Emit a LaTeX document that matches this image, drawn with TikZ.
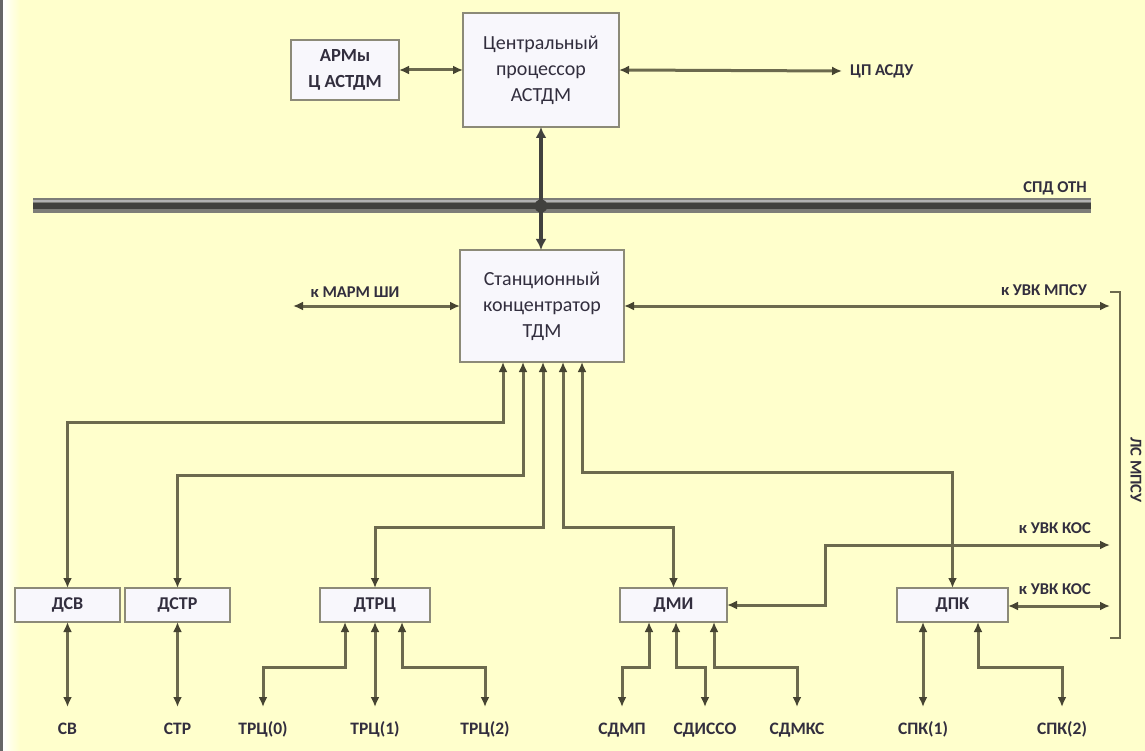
\documentclass[tikz,border=0pt]{standalone}
\usepackage{fontspec}
\setmainfont{Carlito}
\usetikzlibrary{arrows.meta,calc}
\definecolor{bgyel}{RGB}{255,255,204}
\definecolor{lncol}{RGB}{108,106,78}
\definecolor{tipcol}{RGB}{70,68,50}
\definecolor{boxln}{RGB}{140,138,120}
\definecolor{boxfill}{RGB}{248,247,252}
\definecolor{txtcol}{RGB}{50,46,62}
\definecolor{busouter}{RGB}{125,125,120}
\definecolor{businner}{RGB}{65,65,62}
\tikzset{
  blk/.style={draw=boxln, line width=1.8pt, fill=boxfill, text=txtcol, align=center, inner sep=2pt, outer sep=0pt},
  bigtxt/.style={font=\fontsize{20}{26}\selectfont},
  dbox/.style={blk, minimum height=34pt, font=\bfseries\fontsize{18}{20}\selectfont},
  lbl/.style={text=txtcol, font=\bfseries\fontsize{17.5}{20}\selectfont, inner xsep=2pt, inner ysep=15pt, text height=12pt, text depth=3pt, outer sep=0pt},
  small/.style={text=txtcol, font=\bfseries\fontsize{16.5}{18}\selectfont, inner sep=1pt},
  conn/.style={draw=lncol, line width=3pt, {Latex[length=10pt,width=9pt,color=tipcol]}-{Latex[length=10pt,width=9pt,color=tipcol]}},
}
\begin{document}
\begin{tikzpicture}[x=1pt,y=-1pt]
% background
\fill[bgyel] (0,0) rectangle (1145,751);
\useasboundingbox (0,0) rectangle (1145,751);
\shade[left color=white, right color=bgyel] (2.5,0) rectangle (20,751);
\fill[black!60] (0,0) rectangle (2.5,751);

% top blocks
\node[blk, bigtxt, minimum width=156pt, minimum height=114pt] (cp) at (541,70) {Центральный\\процессор\\АСТДМ};
\node[blk, font=\bfseries\fontsize{18.5}{26}\selectfont, minimum width=108pt, minimum height=60pt] (arm) at (345,70) {АРМы\\Ц АСТДМ};
\node[small, anchor=west, inner xsep=8pt] (cpasdu) at (842,71) {ЦП АСДУ};
\draw[conn] (arm.east) -- (cp.west);
\draw[conn] (cp.east) -- (cpasdu.west);

% bus
\coordinate (busL) at (33,206);
\coordinate (busR) at (1091,206);
\draw[busouter, line width=15pt] (busL) -- (busR);
\draw[businner, line width=6pt] (busL) -- (busR);
\draw[black!30, line width=1.2pt] ($(busL)+(0,-5)$) -- ($(busR)+(0,-5)$);
\node[small, anchor=base east] (spd) at (1088,193) {СПД ОТН};

% concentrator
\node[blk, bigtxt, minimum width=164pt, minimum height=112pt] (conc) at (542,306) {Станционный\\концентратор\\ТДМ};
\draw[draw=businner, line width=4pt, {Latex[length=11pt,width=11pt,color=businner]}-{Latex[length=11pt,width=11pt,color=businner]}] (cp.south) -- (cp.south |- conc.north);
\fill[businner] (cp.south |- busL) circle (6.5pt);

\coordinate (marm) at (293,306);
\coordinate (uvkmpsu) at (1110,306);
\draw[conn] (conc.west) -- (marm);
\draw[conn] (conc.east) -- (uvkmpsu);
\node[small] (lmarm) at (355,292) {к МАРМ ШИ};
\node[small, anchor=east] (luvkm) at (1088,290) {к УВК МПСУ};

% bottom devices
\node[dbox, minimum width=105pt] (dsv) at (67.5,605) {ДСВ};
\node[dbox, minimum width=105pt] (dstr) at (177.5,605) {ДСТР};
\node[dbox, minimum width=110pt] (dtrc) at (375,605) {ДТРЦ};
\node[dbox, minimum width=107pt] (dmi) at (673.5,605) {ДМИ};
\node[dbox, minimum width=111pt] (dpk) at (952.5,605) {ДПК};

% concentrator to devices
\draw[conn] ([xshift=-39pt]conc.south) -- ++(0,60) -| (dsv.north);
\draw[conn] ([xshift=-19pt]conc.south) -- ++(0,113) -| (dstr.north);
\draw[conn] ([xshift=1pt]conc.south) -- ++(0,165) -| (dtrc.north);
\draw[conn] ([xshift=21pt]conc.south) -- ++(0,165) -| (dmi.north);
\draw[conn] ([xshift=40pt]conc.south) -- ++(0,110) -| (dpk.north);

% УВК КОС
\coordinate (uvk1) at (1110,545);
\coordinate (uvk2) at (1110,606);
\draw[conn] (dmi.east) -| (825,545) -- (uvk1);
\draw[conn] (dpk.east |- uvk2) -- (uvk2);
\node[small, anchor=east] (luvk1) at (1092,528) {к УВК КОС};
\node[small, anchor=east] (luvk2) at (1092,589) {к УВК КОС};

% bracket
\draw[lncol, line width=1.8pt] (1110,292) -- (1120,292) -- (1120,638) -- (1110,638);
\node[small, rotate=-90] (lsmpsu) at (1136,470) {ЛС МПСУ};

% bottom labels
\node[lbl, anchor=base] (sv) at (67.5,734) {СВ};
\node[lbl, anchor=base] (str) at (177.5,734) {СТР};
\node[lbl, anchor=base] (trc0) at (263,734) {ТРЦ(0)};
\node[lbl, anchor=base] (trc1) at (375,734) {ТРЦ(1)};
\node[lbl, anchor=base] (trc2) at (485,734) {ТРЦ(2)};
\node[lbl, anchor=base] (sdmp) at (622,734) {СДМП};
\node[lbl, anchor=base] (sdisso) at (705,734) {СДИССО};
\node[lbl, anchor=base] (sdmks) at (797,734) {СДМКС};
\node[lbl, anchor=base] (spk1) at (923,734) {СПК(1)};
\node[lbl, anchor=base] (spk2) at (1062,734) {СПК(2)};

\draw[conn] (dsv.south) -- (sv.north);
\draw[conn] (dstr.south) -- (str.north);
\draw[conn] ([xshift=-30pt]dtrc.south) -- ++(0,45) -| (trc0.north);
\draw[conn] (dtrc.south) -- (trc1.north);
\draw[conn] ([xshift=27pt]dtrc.south) -- ++(0,45) -| (trc2.north);
\draw[conn] ([xshift=-24.5pt]dmi.south) -- ++(0,45) -| (sdmp.north);
\draw[conn] ([xshift=2.5pt]dmi.south) -- ++(0,45) -| (sdisso.north);
\draw[conn] ([xshift=40.5pt]dmi.south) -- ++(0,45) -| (sdmks.north);
\draw[conn] ([xshift=-29.5pt]dpk.south) -- (spk1.north);
\draw[conn] ([xshift=25.5pt]dpk.south) -- ++(0,45) -| (spk2.north);
\end{tikzpicture}
\end{document}
